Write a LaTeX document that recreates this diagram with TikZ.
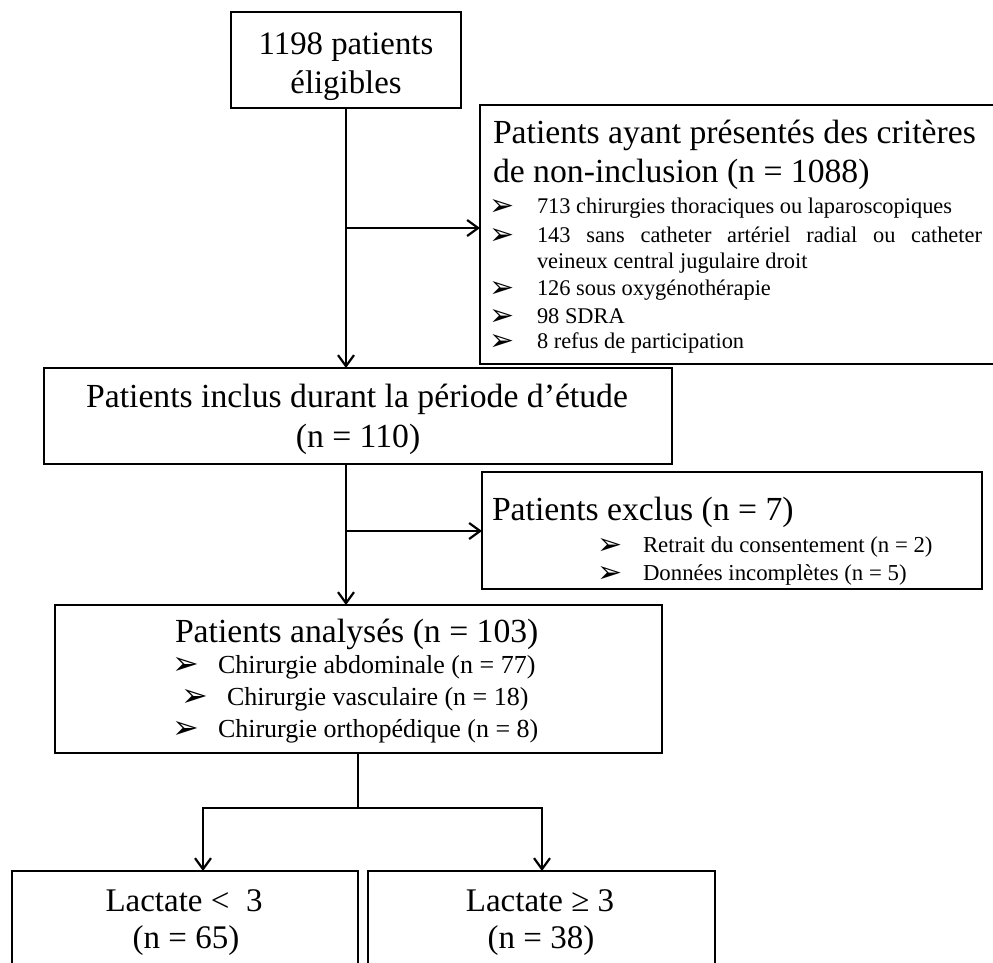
\documentclass[tikz,border=0pt]{standalone}
\usepackage{fontspec}
\setmainfont{Liberation Serif}
\newfontfamily\dejavu{DejaVu Sans}
\usetikzlibrary{arrows.meta}
\newcommand\arrb[1]{{\dejavu\fontsize{#1}{#1}\selectfont ➢}}
\begin{document}
\begin{tikzpicture}[x=1pt,y=-1pt,
  box/.style={draw, line width=2.6pt, inner sep=0pt, outer sep=0pt},
  conn/.style={line width=2.2pt},
  arr/.style={conn, -{Straight Barb[length=11pt,width=16pt,line width=2.2pt]}},
  txt/.style={inner sep=0pt, outer sep=0pt},
  mark/.style={},
  bul/.style={txt, anchor=center},
  big/.style={txt, font=\fontsize{33.7}{40}\selectfont},
  small/.style={txt, font=\fontsize{22.4}{27}\selectfont},
  mid/.style={txt, font=\fontsize{22.8}{27}\selectfont},
  med/.style={txt, font=\fontsize{26}{31}\selectfont}
]
\useasboundingbox (0,0) rectangle (993,962);

% boxes
\node[box, minimum width=230, minimum height=96] (b1) at (346,60) {};
\node[box, minimum width=520, minimum height=259] (b2) at (740,234.5) {};
\node[box, minimum width=628, minimum height=96] (b3) at (358,416) {};
\node[box, minimum width=500, minimum height=117] (b5) at (732,530.5) {};
\node[box, minimum width=607, minimum height=148] (b4) at (358.5,679) {};
\node[box, minimum width=346, minimum height=129] (b6) at (185,935.5) {};
\node[box, minimum width=347, minimum height=129] (b7) at (541.5,935.5) {};

% box 1 text
\node[big, anchor=base, font=\fontsize{32.8}{40}\selectfont] (t1a) at (346,54) {1198 patients};
\node[big, anchor=base, font=\fontsize{32.8}{40}\selectfont] (t1b) at (346,93) {éligibles};

% box 2 text
\node[big, anchor=base west] (t2a) at (493,143) {Patients ayant présentés des critères};
\node[big, anchor=base west] (t2b) at (493,182) {de non-inclusion (n = 1088)};
\node[bul] (m21) at (502,207) {\arrb{30}};
\node[small, anchor=base west] (s21) at (537,213) {713 chirurgies thoraciques ou laparoscopiques};
\node[bul] (m22) at (502,236) {\arrb{30}};
\node[small, anchor=base west] (s22) at (537,242) {\makebox[445pt][s]{143 sans catheter artériel radial ou catheter}};
\node[small, anchor=base west] (s23) at (537,268) {veineux central jugulaire droit};
\node[bul] (m24) at (502,289) {\arrb{30}};
\node[small, anchor=base west] (s24) at (537,295) {126 sous oxygénothérapie};
\node[bul] (m25) at (502,317) {\arrb{30}};
\node[small, anchor=base west] (s25) at (537,323) {98 SDRA};
\node[bul] (m26) at (502,342) {\arrb{30}};
\node[small, anchor=base west] (s26) at (537,348) {8 refus de participation};

% box 3 text
\node[big, anchor=base] (t3a) at (357,407) {Patients inclus durant la période d’étude};
\node[big, anchor=base] (t3b) at (358,447) {(n = 110)};

% box 5 text
\node[big, anchor=base west] (t5a) at (492,520) {Patients exclus (n = 7)};
\node[bul] (m51) at (610,546) {\arrb{30}};
\node[mid, anchor=base west] (s51) at (643,552) {Retrait du consentement (n = 2)};
\node[bul] (m52) at (610,574) {\arrb{30}};
\node[mid, anchor=base west] (s52) at (643,580) {Données incomplètes (n = 5)};

% box 4 text
\node[big, anchor=base west] (t4a) at (175,642) {Patients analysés (n = 103)};
\node[bul] (m41) at (186,666) {\arrb{32}};
\node[med, anchor=base west] (s41) at (218,673) {Chirurgie abdominale (n = 77)};
\node[bul] (m42) at (195,698) {\arrb{32}};
\node[med, anchor=base west] (s42) at (227,705) {Chirurgie vasculaire (n = 18)};
\node[bul] (m43) at (186,730) {\arrb{32}};
\node[med, anchor=base west] (s43) at (218,737) {Chirurgie orthopédique (n = 8)};

% bottom boxes text
\node[big, anchor=base, font=\fontsize{33}{40}\selectfont] (t6a) at (184,911) {Lactate <\ \ 3};
\node[big, anchor=base, font=\fontsize{33}{40}\selectfont] (t6b) at (186,948) {(n = 65)};
\node[big, anchor=base, font=\fontsize{33}{40}\selectfont] (t7a) at (540,911) {Lactate ≥ 3};
\node[big, anchor=base, font=\fontsize{33}{40}\selectfont] (t7b) at (541,948) {(n = 38)};

% connectors
\coordinate (j1) at (346,228);
\coordinate (j2) at (346,531);
\coordinate (j3) at (358,808);
\coordinate (jl) at (203,808);
\coordinate (jr) at (542,808);
\draw[arr] (b1.south) -- (b1.south |- b3.north);
\draw[arr] (j1) -- (j1 -| b2.west);
\draw[arr] (b3.south -| j2) -- (b4.north -| j2);
\draw[arr] (j2) -- (j2 -| b5.west);
\draw[conn] (b4.south -| j3) -- (j3);
\draw[arr] (j3) -| (jl |- b6.north);
\draw[arr] (j3) -| (jr |- b7.north);
\end{tikzpicture}
\end{document}
